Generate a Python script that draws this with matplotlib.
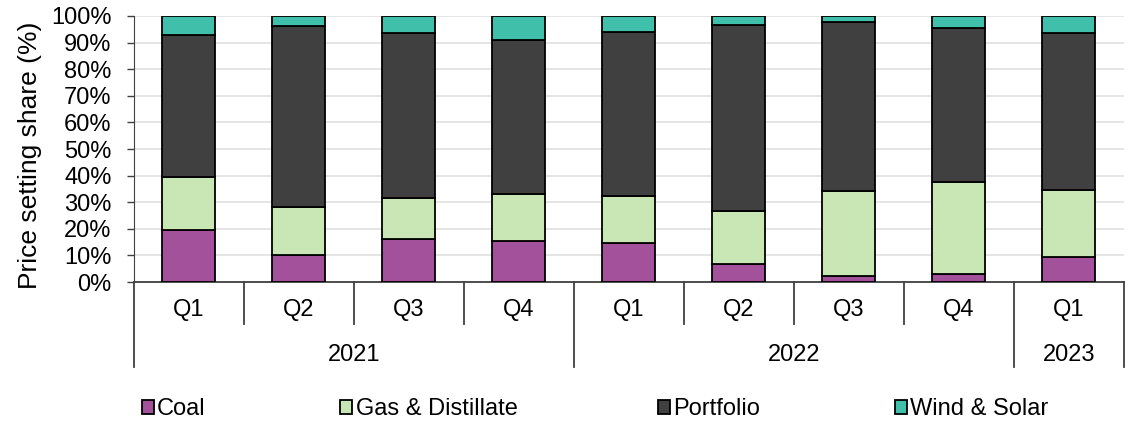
import matplotlib.pyplot as plt
from matplotlib.transforms import blended_transform_factory

plt.rcParams['font.family'] = ['Liberation Sans', 'DejaVu Sans']

quarters = ['Q1', 'Q2', 'Q3', 'Q4', 'Q1', 'Q2', 'Q3', 'Q4', 'Q1']
years = ['2021', '2022', '2023']
year_spans = [(0, 3), (4, 7), (8, 8)]

coal = [19.5, 10.2, 16.0, 15.5, 14.7, 6.8, 2.3, 2.9, 9.3]
gas = [20.1, 18.0, 15.7, 17.7, 17.6, 19.9, 31.9, 34.6, 25.4]
portfolio = [53.3, 68.0, 62.0, 57.8, 61.7, 69.9, 63.5, 57.9, 59.0]
wind_solar = [7.1, 3.8, 6.3, 9.0, 6.0, 3.4, 2.3, 4.6, 6.3]

series = [
    ('Coal', coal, '#A2519A'),
    ('Gas & Distillate', gas, '#C8E7B5'),
    ('Portfolio', portfolio, '#404040'),
    ('Wind & Solar', wind_solar, '#40C0AB'),
]

fig = plt.figure(figsize=(11.34, 4.21), dpi=100)
ax = fig.add_axes([0.118, 0.330, 0.873, 0.632])

x = list(range(len(quarters)))
bottom = [0.0] * len(quarters)
bars = []
for name, vals, col in series:
    b = ax.bar(x, vals, width=0.48, bottom=bottom, color=col,
               edgecolor='black', linewidth=1.3, label=name, zorder=3)
    bars.append(b)
    bottom = [s + v for s, v in zip(bottom, vals)]

ax.set_xlim(-0.5, 8.5)
ax.set_ylim(0, 100)
ax.set_yticks(range(0, 101, 10))
ax.set_yticklabels([f'{v}%' for v in range(0, 101, 10)], fontsize=17)
ax.yaxis.grid(True, color='#E3E3E3', linewidth=1.3, zorder=0)
ax.tick_params(axis='y', length=5, width=1, color='#404040', pad=11)
ax.set_xticks([])
ax.set_ylabel('Price setting share (%)', fontsize=19)
ax.yaxis.set_label_coords(-0.093, 0.475)

for side in ['top', 'right']:
    ax.spines[side].set_visible(False)
ax.spines['left'].set_color('#404040')
ax.spines['bottom'].set_color('#404040')
ax.spines['bottom'].set_linewidth(1.3)

# two-level category axis below the bars
trans = blended_transform_factory(ax.transData, ax.transAxes)
for i, q in enumerate(quarters):
    ax.text(i, -0.105, q, transform=trans, ha='center', va='center', fontsize=17)

year_edges = [-0.5, 3.5, 7.5, 8.5]
for i in range(len(quarters) + 1):
    xe = i - 0.5
    y_end = -0.32 if xe in year_edges else -0.158
    ax.plot([xe, xe], [0, y_end], transform=trans, color='#404040',
            linewidth=1.3, clip_on=False)

for yr, (a, b) in zip(years, year_spans):
    ax.text((a + b) / 2, -0.274, yr, transform=trans, ha='center',
            va='center', fontsize=17)

# legend entries laid out along the bottom
legend_x = [0.125, 0.300, 0.580, 0.789]
for b, lx in zip(bars, legend_x):
    fig.legend([b], [b.get_label()], loc='center left',
               bbox_to_anchor=(lx, 0.028), frameon=False, fontsize=17,
               handlelength=0.5, handleheight=0.5, handletextpad=0.15,
               borderpad=0, borderaxespad=0)

fig.savefig('out.png', dpi=100)
